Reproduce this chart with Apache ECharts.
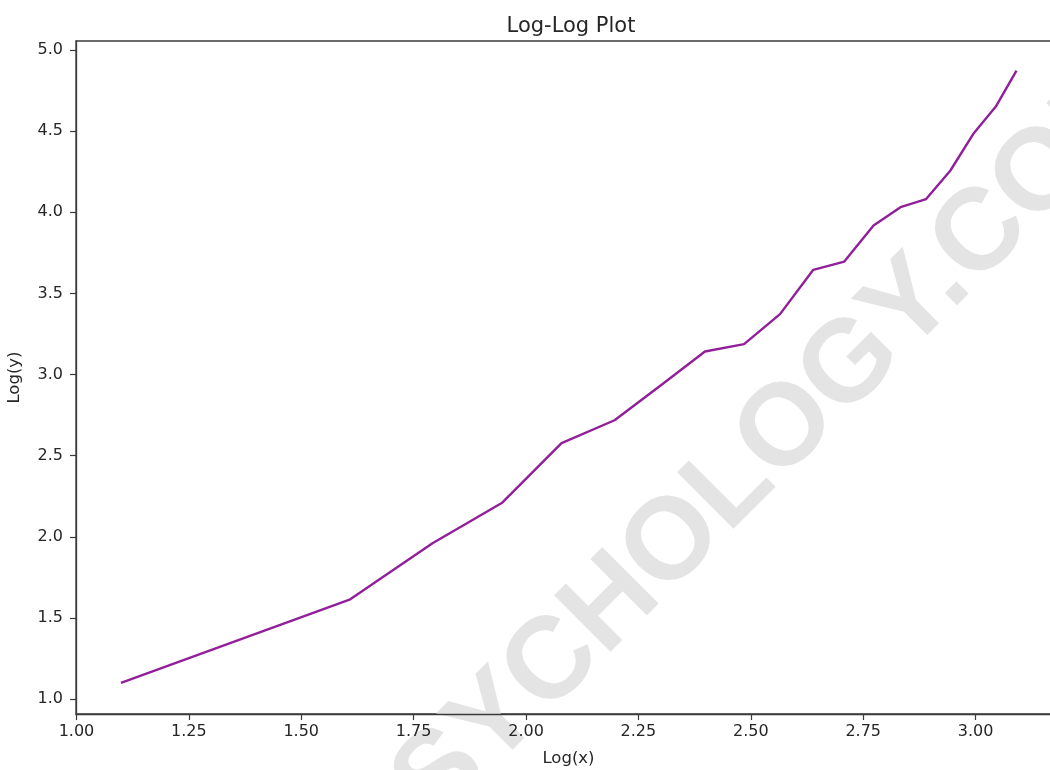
<!DOCTYPE html>
<html>
<head>
<meta charset="utf-8">
<script src="https://cdn.jsdelivr.net/npm/echarts@6/dist/echarts.min.js"></script>
<style>
  html, body { margin: 0; padding: 0; background: #ffffff; }
  #chart { width: 1050px; height: 770px; }
</style>
</head>
<body>
<div id="chart"></div>
<script>
// Log-transformed observations
const logX = [1.099, 1.609, 1.792, 1.946, 2.079, 2.197, 2.303, 2.398, 2.485, 2.565,
              2.639, 2.708, 2.773, 2.833, 2.890, 2.944, 2.996, 3.045, 3.091];
const logY = [1.100, 1.615, 1.960, 2.208, 2.577, 2.718, 2.940, 3.142, 3.187, 3.372,
              3.645, 3.696, 3.918, 4.031, 4.081, 4.257, 4.487, 4.651, 4.873];

// Tick positions and labels
const xTicks = [1.0, 1.25, 1.5, 1.75, 2.0, 2.25, 2.5, 2.75, 3.0];
const yTicks = [1.0, 1.5, 2.0, 2.5, 3.0, 3.5, 4.0, 4.5, 5.0];

const titleText = 'Log-Log Plot';
const xName = 'Log(x)';
const yName = 'Log(y)';
const watermark = 'PSYCHOLOGY.COM';

const points = logX.map((x, i) => [x, logY[i]]);

const tickFont = { fontFamily: 'DejaVu Sans', fontSize: 16, color: '#262626' };
const axisColor = '#3a3a3a';

const chart = echarts.init(document.getElementById('chart'), null, { renderer: 'canvas' });

chart.setOption({
  backgroundColor: '#ffffff',
  animation: false,
  title: {
    text: titleText,
    left: 566,
    top: 11,
    textAlign: 'center',
    textStyle: { fontFamily: 'DejaVu Sans', fontSize: 21, fontWeight: 'normal', color: '#262626' }
  },
  graphic: [{
    type: 'text',
    x: 751,
    y: 466,
    rotation: Math.PI / 4,
    z: 0,
    silent: true,
    style: {
      text: watermark,
      fill: '#e4e4e4',
      font: 'bold 116px "Liberation Sans", Arial, sans-serif',
      textAlign: 'center',
      textVerticalAlign: 'middle'
    }
  }],
  grid: {
    left: 76,
    top: 41,
    right: -11,
    bottom: 56,
    show: true,
    borderColor: axisColor,
    borderWidth: 1.3,
    backgroundColor: 'transparent',
    containLabel: false,
    outerBoundsMode: 'none'
  },
  xAxis: {
    type: 'value',
    min: 0.999,
    max: 3.19,
    interval: 0.25,
    name: xName,
    nameLocation: 'middle',
    nameGap: 36,
    nameTextStyle: { fontFamily: 'DejaVu Sans', fontSize: 16.5, color: '#262626' },
    axisLine: { show: true, onZero: false, lineStyle: { color: axisColor, width: 1.3 } },
    axisTick: { show: true, length: 6, inside: false, lineStyle: { color: axisColor, width: 1.2 },
                customValues: xTicks },
    axisLabel: Object.assign({ margin: 10, customValues: xTicks,
                formatter: v => v.toFixed(2) }, tickFont),
    splitLine: { show: false }
  },
  yAxis: {
    type: 'value',
    min: 0.908,
    max: 5.055,
    name: yName,
    nameLocation: 'middle',
    nameGap: 53,
    nameTextStyle: { fontFamily: 'DejaVu Sans', fontSize: 16.5, color: '#262626' },
    axisLine: { show: true, onZero: false, lineStyle: { color: axisColor, width: 1.3 } },
    axisTick: { show: true, length: 6, lineStyle: { color: axisColor, width: 1.2 },
                customValues: yTicks },
    axisLabel: Object.assign({ margin: 13, customValues: yTicks,
                formatter: v => v.toFixed(1) }, tickFont),
    splitLine: { show: false }
  },
  series: [{
    type: 'line',
    data: points,
    showSymbol: false,
    symbol: 'none',
    z: 5,
    lineStyle: { color: '#921f9a', width: 2.4 }
  }]
});
</script>
</body>
</html>
